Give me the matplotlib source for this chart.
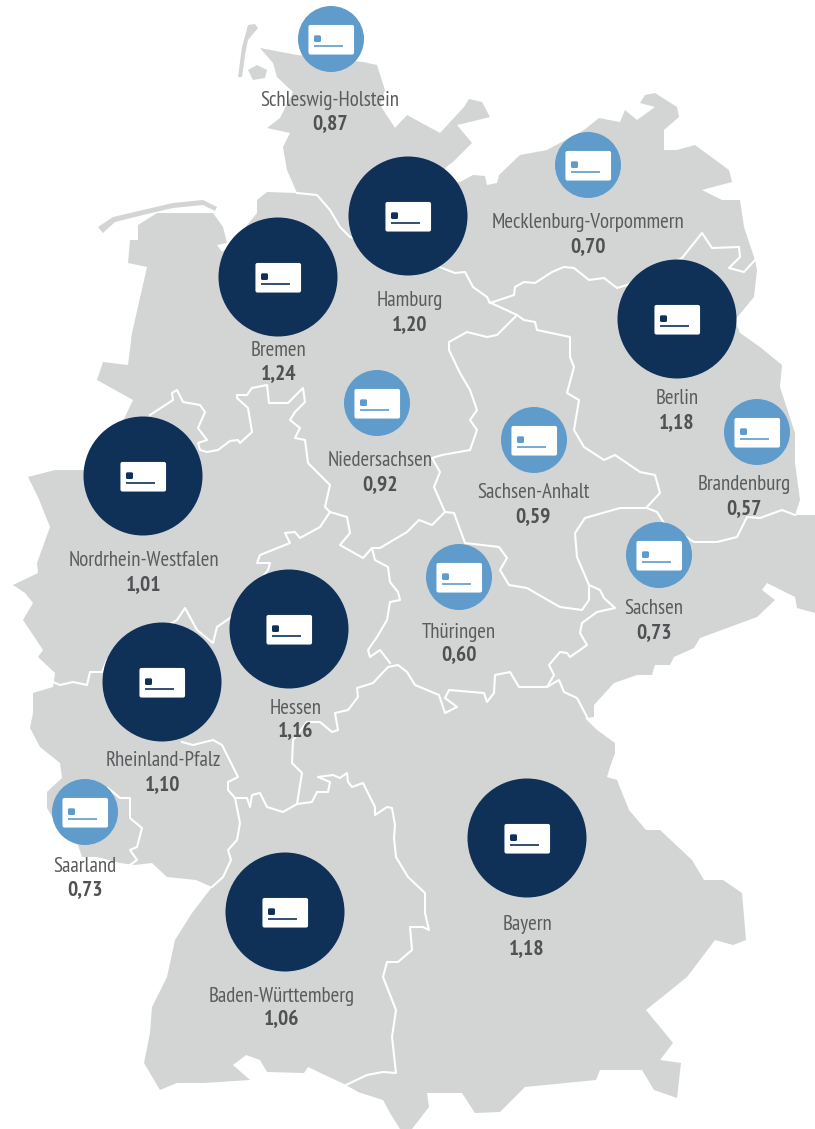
#!/usr/bin/env python
import numpy as np
import matplotlib
matplotlib.use('Agg')
import matplotlib.patches as ptch
from matplotlib import pyplot as plt

plt.rcParams['font.family'] = ['PT Sans Narrow', 'Liberation Sans', 'DejaVu Sans']

# states
names = ['Schleswig-Holstein', 'Mecklenburg-Vorpommern', 'Hamburg', 'Bremen', 'Berlin',
         'Niedersachsen', 'Sachsen-Anhalt', 'Brandenburg', 'Nordrhein-Westfalen', 'Sachsen',
         'Thüringen', 'Hessen', 'Rheinland-Pfalz', 'Saarland', 'Bayern', 'Baden-Württemberg']
values = [0.87, 0.70, 1.20, 1.24, 1.18, 0.92, 0.59, 0.57, 1.01, 0.73, 0.60, 1.16, 1.10, 0.73, 1.18, 1.06]

# where things sit on the map, image pixels
circle_x = [331, 588, 408, 278, 677, 377, 534, 757, 143, 659, 459, 289, 162, 85, 527, 285]
circle_y = [39, 165, 216, 277, 319, 403, 440, 432, 476, 555, 577, 629, 682, 812, 838, 912]
label_x = [330, 588, 410, 279, 677, 380, 533, 744, 144, 654, 459, 296, 163, 85, 527, 282]
label_y = [100, 223, 301, 350, 399, 461, 493, 485, 561, 609, 632, 708, 761, 866, 925, 996]

germany = [(260, 48), (297, 55), (363, 62), (377, 65), (385, 90), (380, 105), (395, 128), (407, 115),
           (440, 133), (464, 107), (469, 99), (482, 102), (490, 117), (470, 122), (457, 125), (472, 143),
           (453, 162), (446, 167), (440, 185), (460, 182), (473, 175), (485, 176), (487, 185), (497, 183),
           (499, 175), (520, 155), (547, 150), (584, 130), (599, 118), (620, 122), (625, 110), (637, 120),
           (655, 107), (640, 103), (645, 95), (655, 93), (677, 107), (679, 117), (664, 130), (664, 150),
           (677, 150), (695, 145), (729, 170), (732, 182), (702, 190), (722, 200), (740, 200), (744, 227),
           (755, 260), (757, 270), (754, 297), (735, 320), (740, 333), (760, 347), (782, 365), (780, 387),
           (795, 433), (795, 463), (800, 500), (795, 515), (815, 515), (815, 613), (797, 608), (795, 597),
           (767, 583), (762, 590), (775, 600), (757, 617), (700, 638), (694, 648), (674, 657), (670, 665),
           (655, 665), (652, 675), (637, 675), (614, 683), (594, 705), (594, 717), (585, 718), (597, 730),
           (615, 743), (615, 753), (610, 767), (607, 777), (617, 780), (629, 810), (646, 830), (660, 830),
           (692, 860), (704, 880), (723, 880), (742, 893), (746, 940), (733, 945), (715, 940), (687, 977),
           (646, 1010), (673, 1043), (660, 1060), (681, 1063), (677, 1098), (654, 1090), (642, 1070),
           (600, 1070), (596, 1080), (525, 1087), (500, 1112), (475, 1113), (462, 1093), (427, 1093),
           (429, 1107), (412, 1129), (400, 1129), (390, 1113), (383, 1100), (358, 1092), (346, 1085),
           (308, 1067), (304, 1073), (267, 1072), (260, 1060), (246, 1055), (233, 1065), (250, 1080),
           (204, 1083), (177, 1083), (160, 1090), (144, 1063), (150, 1033), (152, 1007), (167, 977),
           (175, 940), (192, 913), (212, 887), (196, 880), (167, 877), (152, 863), (135, 865), (120, 863),
           (97, 857), (82, 857), (78, 845), (60, 830), (47, 808), (47, 792), (62, 778), (60, 763), (40, 747),
           (30, 728), (33, 713), (33, 693), (53, 687), (55, 673), (38, 657), (43, 650), (23, 620), (33, 603),
           (25, 593), (13, 585), (38, 573), (37, 563), (50, 527), (38, 497), (28, 477), (55, 470), (83, 470),
           (110, 440), (125, 417), (133, 400), (97, 380), (103, 362), (128, 365), (132, 333), (147, 267),
           (128, 263), (130, 240),
           (138, 240), (138, 225), (157, 213), (213, 213), (223, 227), (227, 243), (217, 245), (222, 252),
           (235, 240), (257, 213), (257, 200), (267, 192), (297, 193), (287, 170), (283, 147), (290, 133),
           (267, 128), (280, 118), (293, 92), (277, 77), (273, 63)]
sylt = [(255, 24), (248, 25), (242, 47), (238, 77), (242, 77), (245, 55), (248, 40), (258, 28)]
foehr = [(248, 70), (257, 65), (267, 70), (265, 78), (253, 80)]
frisian = [(98, 227), (113, 217), (143, 210), (173, 203), (203, 200), (217, 207), (215, 211), (203, 205),
           (173, 208), (143, 215), (115, 222), (103, 233)]

borders = [
    [(297, 193), (317, 195), (330, 210), (340, 227), (350, 237), (442, 268), (455, 273), (465, 272),
     (473, 287), (487, 297), (490, 303), (514, 295), (515, 287), (524, 282), (535, 283), (552, 272),
     (564, 267), (574, 268), (589, 280), (604, 278), (617, 288), (627, 285), (682, 258), (702, 233),
     (712, 248), (739, 247), (740, 257), (729, 268), (744, 272), (755, 260)],
    [(489, 302), (517, 315), (524, 320), (535, 322), (537, 330), (570, 337), (570, 357), (574, 367),
     (567, 393), (579, 400), (574, 430), (584, 447), (604, 460), (615, 455), (640, 472), (655, 475),
     (660, 493), (647, 507)],
    [(517, 315), (497, 335), (487, 337), (467, 332), (449, 342), (449, 350), (460, 373), (470, 390),
     (477, 410), (470, 420), (477, 430), (470, 450), (442, 455), (432, 458), (440, 472), (434, 487),
     (445, 512), (454, 513), (465, 543), (499, 547), (507, 558), (500, 570), (509, 585), (527, 588),
     (539, 595), (560, 607), (582, 610), (589, 600), (589, 585), (577, 557), (575, 533), (585, 518),
     (620, 508), (647, 508), (657, 512), (664, 523), (694, 542), (717, 542), (737, 537), (747, 517),
     (760, 518), (782, 510), (795, 515)],
    [(589, 585), (600, 590), (604, 598), (615, 608), (597, 612), (582, 623), (580, 633), (587, 645),
     (570, 657), (567, 653), (560, 652), (549, 665), (554, 675), (547, 687), (519, 687), (510, 672),
     (495, 675), (494, 693), (487, 702), (484, 693), (449, 690), (445, 698), (457, 707), (445, 713),
     (439, 695), (415, 685), (407, 672), (398, 665), (388, 667), (373, 683), (357, 688), (358, 697),
     (348, 710), (335, 713), (338, 730), (332, 732), (320, 722), (307, 722), (293, 740), (292, 763),
     (302, 773), (297, 804)],
    [(547, 687), (559, 680), (564, 692), (577, 698), (587, 717)],
    [(445, 512), (432, 525), (419, 520), (407, 532), (380, 548), (372, 548), (363, 558), (340, 545),
     (350, 533), (347, 517), (330, 512), (320, 527), (300, 538), (295, 532), (285, 533), (290, 543),
     (260, 555), (257, 563), (270, 563), (268, 570), (230, 618), (217, 627), (213, 643), (197, 630),
     (185, 608), (177, 620), (107, 660), (102, 672), (90, 672), (87, 685), (73, 682), (60, 685), (53, 682)],
    [(372, 548), (375, 560), (388, 567), (390, 582), (398, 592), (400, 600), (390, 602), (387, 620),
     (377, 637), (368, 650), (370, 657), (380, 650), (390, 663)],
    [(150, 415), (173, 400), (172, 393), (177, 390), (183, 402), (200, 405), (205, 412), (198, 428),
     (207, 440), (198, 443), (200, 450), (207, 452), (218, 450), (230, 441), (238, 440), (240, 443),
     (252, 432), (248, 408), (237, 398), (237, 395), (247, 395), (252, 388), (267, 385), (269, 403),
     (288, 403), (303, 388), (305, 402), (295, 412), (290, 420), (300, 428), (295, 438), (305, 440),
     (308, 463), (330, 485), (325, 507), (330, 512)],
    [(182, 742), (193, 745), (213, 740), (222, 745), (228, 757), (238, 777), (228, 782), (228, 790),
     (235, 798), (240, 823), (237, 840), (228, 850), (231, 860), (223, 877), (212, 887)],
    [(235, 798), (247, 798), (250, 807), (252, 795), (260, 793), (267, 807), (283, 812), (297, 804),
     (312, 802), (317, 792), (328, 792), (330, 782), (318, 777), (333, 775), (340, 778), (347, 773),
     (348, 782), (352, 787), (363, 783), (375, 807), (375, 815), (387, 807), (392, 808), (395, 825),
     (394, 838), (396, 857), (408, 877), (425, 893), (425, 913), (429, 930), (423, 927), (410, 927),
     (412, 950), (398, 962), (387, 962), (383, 977), (396, 1010), (392, 1037), (396, 1073), (383, 1072),
     (367, 1075), (346, 1085)],
    [(108, 788), (120, 798), (130, 798), (130, 818), (142, 828), (137, 847), (130, 850), (137, 860), (130, 865)],
]

DARK = '#0f3157'
LIGHT = '#5f9ccb'
GREY = '#d3d4d4'

fig = plt.figure(figsize=(8.15, 11.29), dpi=100)
ax = fig.add_axes([0, 0, 1, 1])
ax.set_xlim(0, 815)
ax.set_ylim(1129, 0)
ax.axis('off')

for shape in [germany, sylt, foehr, frisian]:
    ax.add_patch(ptch.Polygon(shape, closed=True, facecolor=GREY, edgecolor='none', zorder=1))
for line in borders:
    pts = np.array(line)
    ax.plot(pts[:, 0], pts[:, 1], color='white', lw=1.5, solid_joinstyle='round', zorder=2)

for i in range(len(names)):
    big = values[i] >= 1
    col = DARK if big else LIGHT
    r = 59.5 if big else 33
    cx, cy = circle_x[i], circle_y[i]
    ax.add_patch(ptch.Circle((cx, cy), r, facecolor=col, edgecolor='none', zorder=3))
    # little id card on the circle
    ax.add_patch(ptch.FancyBboxPatch((cx - 22, cy - 13.5), 44.5, 28.5, boxstyle='round,pad=0,rounding_size=1.5',
                                     facecolor='white', edgecolor='white', lw=0.8, zorder=4))
    ax.add_patch(ptch.FancyBboxPatch((cx - 17, cy - 3.7), 7, 6.7, boxstyle='round,pad=0,rounding_size=1.5',
                                     facecolor=col, edgecolor='none', zorder=5))
    ax.plot([cx - 17.5, cx + 11.5], [cy + 7.3, cy + 7.3], color=col, lw=1.2, solid_capstyle='butt', zorder=5)

    ax.text(label_x[i], label_y[i], names[i], ha='center', va='center', fontsize=15, color='#5a5b5d', zorder=6)
    ax.text(label_x[i], label_y[i] + 23.5, f'{values[i]:.2f}'.replace('.', ','), ha='center', va='center',
            fontsize=15.5, fontweight='bold', color='#505153', zorder=6)

fig.savefig('out.png', dpi=100)
